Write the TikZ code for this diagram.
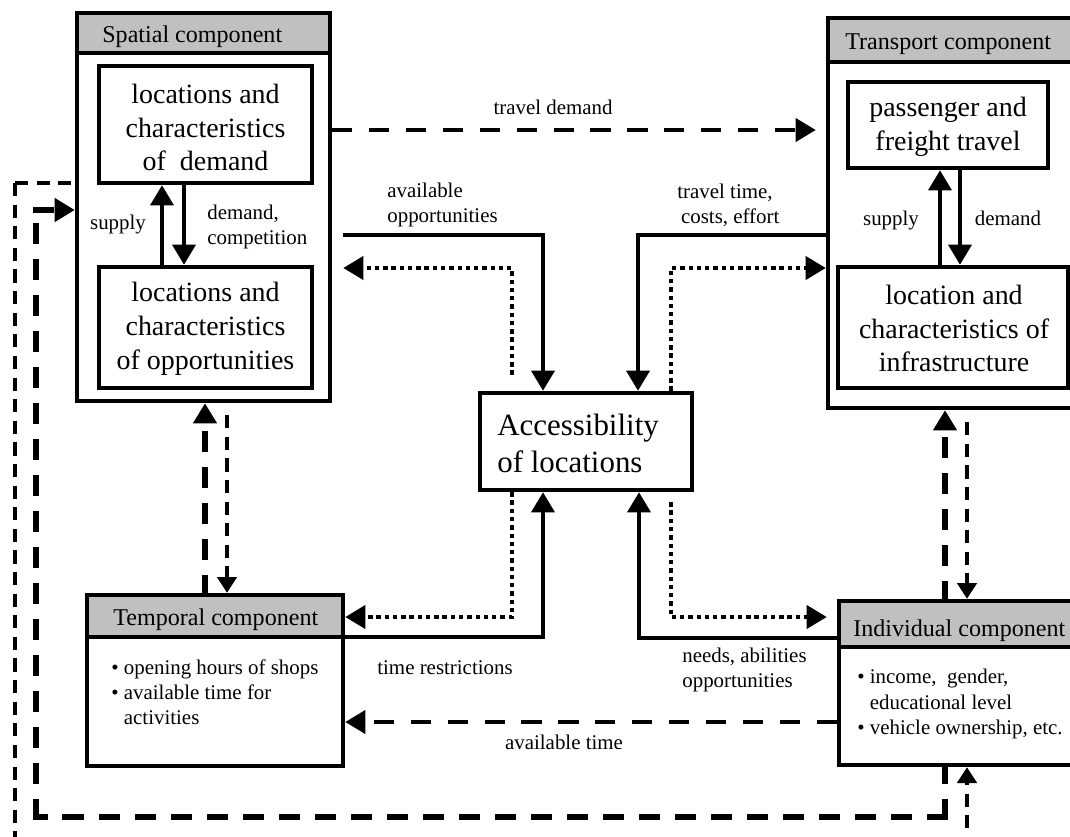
\documentclass[tikz,border=0pt]{standalone}
\usepackage{fontspec}
\setmainfont{Liberation Serif}
\usetikzlibrary{arrows.meta,fit,calc}
\definecolor{headgray}{RGB}{192,192,192}

\newcommand\szHead{\fontsize{13.7pt}{16pt}\selectfont}
\newcommand\szIn{\fontsize{15.9pt}{19.3pt}\selectfont}
\newcommand\szAcc{\fontsize{17.6pt}{21pt}\selectfont}
\newcommand\szSm{\fontsize{11.9pt}{14.4pt}\selectfont}

\begin{document}
\begin{tikzpicture}[x=0.02cm, y=-0.02cm,
  box/.style={draw, line width=2.5pt, inner sep=0pt, fill=white},
  headbar/.style={draw, line width=2.5pt, inner sep=0pt, fill=headgray},
  intxt/.style={font=\szIn, align=center, inner sep=0pt},
  headtxt/.style={font=\szHead, anchor=base west, inner sep=0pt},
  lab/.style={font=\szSm, inner sep=0pt, align=left},
  bigtip/.style={-{Triangle[length=11.5pt,width=13pt]}},
  smalltip/.style={-{Triangle[length=9pt,width=11pt]}},
  solidarr/.style={line width=2.4pt, bigtip},
  dotarr/.style={line width=2.6pt, dash pattern=on 2.5pt off 2.2pt, bigtip},
  linkdash/.style={line width=2.6pt, dash pattern=on 11.5pt off 9.5pt, bigtip},
  thickdash/.style={line width=3.4pt, line cap=rect, dash pattern=on 8.6pt off 11.9pt},
  thindash/.style={line width=2.1pt, dash pattern=on 7.5pt off 4.8pt},
  ]
\useasboundingbox (0,0) rectangle (1070,836);
\clip (0,0) rectangle (1070,836);

% ---------- spatial component ----------
\node[box, fit={(77,13)(330,401)}] (spatial) {};
\node[headbar, fit={(77,13)(330,53)}] (spatialhead) {};
\node[headtxt] at (102,42) {Spatial component};
\node[box, fit={(99,66)(312,183)}] (dem) {};
\node[intxt] at (205.5,127.5) {locations and\\characteristics\\of\ \ demand};
\node[box, fit={(99,267)(312,388)}] (opp) {};
\node[intxt] at (205.5,328.5) {locations and\\characteristics\\of opportunities};

% ---------- transport component ----------
\node[box, fit={(828,18)(1100,408)}] (transport) {};
\node[headbar, fit={(828,18)(1100,62)}] (transporthead) {};
\node[headtxt] at (845,49) {Transport component};
\node[box, fit={(848,82)(1048,168)}] (travel) {};
\node[intxt] at (948,127) {passenger and\\freight travel};
\node[box, fit={(838,267)(1068,388)}] (infra) {};
\node[intxt] at (954,328.5) {location and\\characteristics of\\infrastructure};

% ---------- accessibility ----------
\node[box, fit={(480,393)(692,490)}] (access) {};
\node[font=\szAcc, align=left, anchor=west, inner sep=0pt] (accesstxt) at (497,443) {Accessibility\\of locations};

% ---------- temporal component ----------
\node[box, fit={(87,595)(343,766)}] (temporal) {};
\node[headbar, fit={(87,595)(343,637)}] (temporalhead) {};
\node[headtxt] at (113,625) {Temporal component};
\node[lab, anchor=north west] (temporaltxt) at (111,659)
  {\textbullet\ opening hours of shops\\\textbullet\ available time for\\\phantom{\textbullet\ }activities};

% ---------- individual component ----------
\node[box, fit={(839,601)(1100,765)}] (individual) {};
\node[headbar, fit={(839,601)(1100,647)}] (individualhead) {};
\node[headtxt] at (853,636) {Individual component};
\node[lab, anchor=north west] (individualtxt) at (857,669)
  {\textbullet\ income,\ \ gender,\\\phantom{\textbullet\ }educational level\\\textbullet\ vehicle ownership, etc.};

% ---------- arrows inside the spatial component ----------
\coordinate (spU) at (162,0);
\coordinate (spD) at (184,0);
\draw[solidarr] (opp.north -| spU) -- (dem.south -| spU);
\draw[solidarr] (dem.south -| spD) -- (opp.north -| spD);
\node[lab] at (118,224) {supply};
\node[lab, anchor=west] at (207,227) {demand,\\competition};

% ---------- arrows inside the transport component ----------
\coordinate (trU) at (940,0);
\coordinate (trD) at (960,0);
\draw[solidarr] (infra.north -| trU) -- (travel.south -| trU);
\draw[solidarr] (travel.south -| trD) -- (infra.north -| trD);
\node[lab] at (891,220) {supply};
\node[lab] at (1008,218) {demand};

% ---------- travel demand ----------
\coordinate (tdY) at (0,130);
\draw[linkdash] (spatial.east |- tdY) -- ($(transport.west |- tdY)+(-10,0)$);
\node[lab] at (553,107) {travel demand};

% ---------- spatial <-> accessibility ----------
\coordinate (aoB) at (543,235);
\draw[solidarr] ($(spatial.east |- aoB)+(11,0)$) -- (aoB) -- (access.north -| aoB);
\coordinate (doL) at (512,268);
\draw[dotarr] ($(access.north -| doL)+(0,-16)$) -- (doL) -- ($(spatial.east |- doL)+(11,0)$);
\node[lab, anchor=west] at (387,205) {available\\opportunities};

% ---------- transport <-> accessibility ----------
\coordinate (ttB) at (638,235);
\draw[solidarr] (transport.west |- ttB) -- (ttB) -- (access.north -| ttB);
\coordinate (doR) at (671,268);
\draw[dotarr] (access.north -| doR) -- (doR) -- (transport.west |- doR);
\node[lab, align=center] at (725,205) {travel time,\\\ \ costs, effort};

% ---------- temporal <-> accessibility ----------
\coordinate (trB) at (543,637);
\draw[solidarr] (temporal.east |- trB) -- (trB) -- (access.south -| trB);
\coordinate (dbL) at (512,617);
\draw[dotarr] (access.south -| dbL) -- (dbL) -- (temporal.east |- dbL);
\node[lab] at (445,668) {time restrictions};

% ---------- individual <-> accessibility ----------
\coordinate (naB) at (639,638);
\draw[solidarr] (individual.west |- naB) -- (naB) -- (access.south -| naB);
\coordinate (dbR) at (671,617);
\draw[dotarr] ($(access.south -| dbR)+(0,10)$) -- (dbR) -- ($(individual.west |- dbR)+(-10,0)$);
\node[lab, anchor=west] at (682,670) {needs, abilities\\opportunities};

% ---------- available time ----------
\coordinate (atY) at (0,722);
\draw[linkdash] (individual.west |- atY) -- (temporal.east |- atY);
\node[lab] at (564,742) {available time};

% ---------- spatial <-> temporal ----------
\coordinate (stU) at (205,0);
\coordinate (stD) at (227,0);
\draw[thickdash, bigtip] (temporal.north -| stU) -- (spatial.south -| stU);
\draw[thindash, smalltip] ($(spatial.south -| stD)+(0,12)$) -- (temporal.north -| stD);

% ---------- transport <-> individual ----------
\coordinate (tiU) at (945,0);
\coordinate (tiD) at (967,0);
\draw[thickdash, bigtip] (individual.north -| tiU) -- (transport.south -| tiU);
\draw[thindash, smalltip] ($(transport.south -| tiD)+(0,12)$) -- (individual.north -| tiD);

% ---------- outer feedback loops (each leg dashed from its corner) ----------
\coordinate (lpA) at (945,817);
\coordinate (lpB) at (36,817);
\coordinate (lpC) at (36,210);
\draw[thickdash] (lpA) -- (individual.south -| lpA);
\draw[thickdash] (lpA) -- (lpB);
\draw[thickdash] (lpB) -- (lpC);
\draw[thickdash, bigtip] (lpC) -- (spatial.west |- lpC);
\coordinate (thA) at (15,183);
\coordinate (thB) at (15,850);
\draw[thindash] (thA) -- (spatial.west |- thA);
\draw[thindash] (thA) -- (thB);
\coordinate (thC) at (967,850);
\draw[thindash, smalltip] (thC) -- (individual.south -| thC);
\end{tikzpicture}
\end{document}
